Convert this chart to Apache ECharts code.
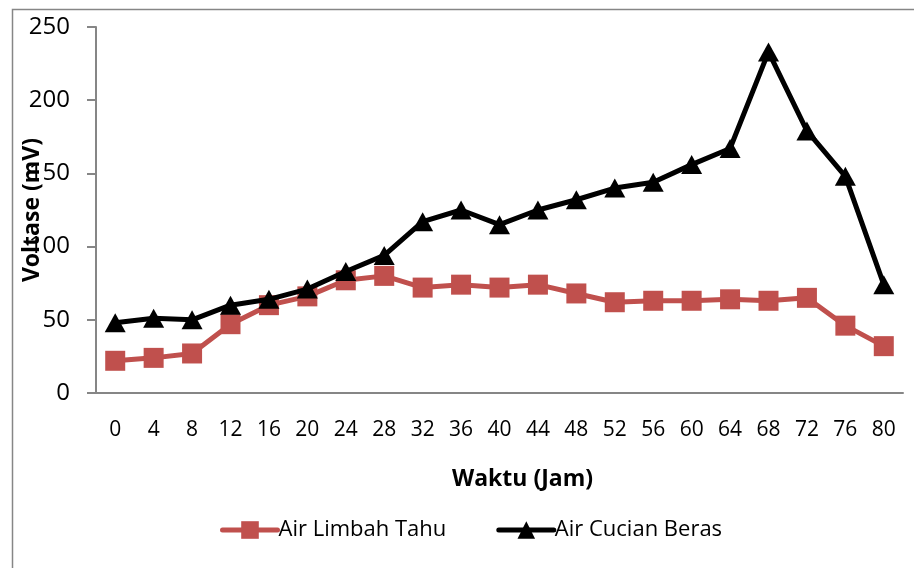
<!DOCTYPE html>
<html>
<head>
<meta charset="utf-8">
<script src="https://cdn.jsdelivr.net/npm/echarts@6/dist/echarts.min.js"></script>
<style>html,body{margin:0;padding:0;background:#fff;}#c{width:914px;height:568px;}</style>
</head>
<body>
<div id="c"></div>
<script>
const categories = ['0','4','8','12','16','20','24','28','32','36','40','44','48','52','56','60','64','68','72','76','80'];
const airLimbahTahu = [22,24,27,47,60,66,77,80,72,74,72,74,68,62,63,63,64,63,65,46,32];
const airCucianBeras = [48,51,50,60,64,71,83,94,117,125,115,125,132,140,144,156,167,233,179,148,74];
const yTicks = [0,50,100,150,200,250];

const FONT = 'Open Sans';
const chart = echarts.init(document.getElementById('c'), null, {renderer:'canvas'});
chart.setOption({
  animation:false,
  backgroundColor:'#fff',
  textStyle:{fontFamily:FONT},
  graphic:[{type:'rect', left:10, top:7, shape:{width:1000,height:1000}, style:{fill:'none', stroke:'#868686', lineWidth:1.5}, z:-1}],
  grid:{left:96, right:11, top:27, bottom:175, containLabel:false, outerBoundsMode:'none'},
  legend:{
    bottom:22, left:215, itemGap:50, itemWidth:55, itemHeight:22,
    lineStyle:{width:5, cap:'round'},
    textStyle:{fontSize:22, color:'#000', fontFamily:FONT, padding:[0,0,0,-4]},
    data:['Air Limbah Tahu','Air Cucian Beras']
  },
  xAxis:{
    type:'category', data:categories, boundaryGap:true,
    name:'Waktu (Jam)', nameLocation:'middle', nameGap:75, nameMoveOverlap:false,
    nameTextStyle:{fontSize:23, fontWeight:'bold', color:'#000', fontFamily:FONT, padding:[0,0,0,46]},
    axisLine:{lineStyle:{color:'#868686', width:2}},
    axisTick:{show:false},
    axisLabel:{fontSize:21, color:'#000', margin:27, interval:0}
  },
  yAxis:{
    type:'value', min:yTicks[0], max:yTicks[yTicks.length-1], interval:50,
    name:'Voltase (mV)', nameLocation:'middle', nameGap:52, nameMoveOverlap:false,
    nameTextStyle:{fontSize:23, fontWeight:'bold', color:'#000', fontFamily:FONT},
    axisLine:{show:true, lineStyle:{color:'#868686', width:2}},
    axisTick:{show:true, length:9, lineStyle:{color:'#868686', width:2}},
    splitLine:{show:false},
    axisLabel:{fontSize:24, color:'#000', margin:26}
  },
  series:[
    {name:'Air Limbah Tahu', type:'line', data:airLimbahTahu, symbol:'rect', symbolSize:20,
     itemStyle:{color:'#c0504d'}, lineStyle:{color:'#c0504d', width:5}, z:2},
    {name:'Air Cucian Beras', type:'line', data:airCucianBeras, symbol:'triangle', symbolSize:[21,19],
     itemStyle:{color:'#000'}, lineStyle:{color:'#000', width:5}, z:3}
  ]
});
</script>
</body>
</html>
